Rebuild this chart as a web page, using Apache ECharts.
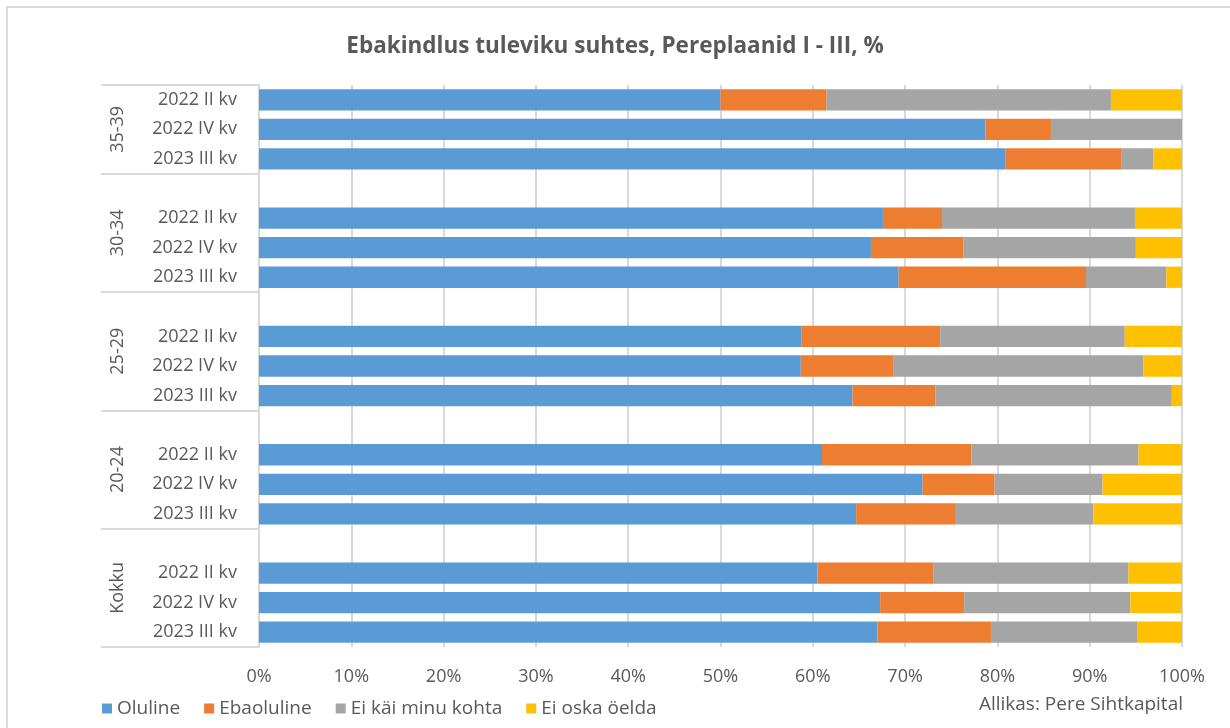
<!DOCTYPE html>
<html>
<head>
<meta charset="utf-8">
<title>Ebakindlus tuleviku suhtes</title>
<script src="https://cdn.jsdelivr.net/npm/echarts@6/dist/echarts.min.js"></script>
<style>
    html, body { margin: 0; padding: 0; background: #fff; }
    #estrutura { width: 1230px; height: 728px; }
</style>
</head>
<body>
<div id="estrutura"></div>
<script>
// categories (top to bottom)
var groups = ['35-39', '30-34', '25-29', '20-24', 'Kokku'];
var periods = ['2022 II kv', '2022 IV kv', '2023 III kv'];

// % values, same order: group by group, period by period
var oluline    = [50.0, 78.7, 80.9, 67.6, 66.3, 69.3, 58.8, 58.7, 64.3, 61.0, 71.9, 64.7, 60.5, 67.3, 67.0];
var ebaoluline = [11.5, 7.1, 12.5, 6.4, 10.0, 20.3, 15.0, 10.0, 9.0, 16.2, 7.8, 10.8, 12.6, 9.1, 12.3];
var eiKai      = [30.8, 14.2, 3.5, 20.9, 18.7, 8.7, 20.0, 27.1, 25.6, 18.1, 11.7, 14.9, 21.1, 18.0, 15.9];
var eiOska     = [7.7, 0, 3.1, 5.1, 5.0, 1.7, 6.2, 4.2, 1.1, 4.7, 8.6, 9.6, 5.8, 5.6, 4.8];

var seriesNames = ['Oluline', 'Ebaoluline', 'Ei käi minu kohta', 'Ei oska öelda'];
var colors = ['#5B9BD5', '#ED7D31', '#A5A5A5', '#FFC000'];

var fontFam = "'Open Sans', sans-serif";
var textColor = '#595959';

// build rows with an empty row in front of every group except the first
var categories = [];
var rowIndex = [];
var bounds = [0];
var mids = [];
var midName = {};
for (var g = 0; g < groups.length; g++) {
    var start = categories.length;
    if (g > 0) {
        categories.push('');
        rowIndex.push(-1);
    }
    for (var p = 0; p < periods.length; p++) {
        categories.push(periods[p]);
        rowIndex.push(g * periods.length + p);
    }
    var end = categories.length;
    bounds.push(end);
    mids.push((start + end) / 2);
    midName[(start + end) / 2] = groups[g];
}

function toRows(values) {
    return rowIndex.map(function (i) { return i < 0 ? '-' : values[i]; });
}

var allValues = [oluline, ebaoluline, eiKai, eiOska];

var chartDom = document.getElementById('estrutura');
var myChart = echarts.init(chartDom);

var series = [];
for (var s = 0; s < seriesNames.length; s++) {
    series.push({
        name: seriesNames[s],
        type: 'bar',
        stack: 'total',
        yAxisIndex: 0,
        barCategoryGap: '28%',
        itemStyle: { color: colors[s] },
        data: toRows(allValues[s])
    });
}

var option = {
    animation: false,
    backgroundColor: '#fff',
    textStyle: { fontFamily: fontFam },
    title: {
        text: 'Ebakindlus tuleviku suhtes, Pereplaanid I - III, %',
        left: 'center',
        top: 30,
        textStyle: { fontFamily: fontFam, fontSize: 22.5, fontWeight: 'bold', color: textColor }
    },
    legend: {
        left: 97,
        top: 694,
        icon: 'rect',
        itemWidth: 10,
        itemHeight: 10,
        itemGap: 24,
        textStyle: { fontFamily: fontFam, fontSize: 19, color: textColor },
        data: seriesNames
    },
    grid: {
        left: 259,
        right: 48,
        top: 85,
        bottom: 81,
        containLabel: false
    },
    xAxis: {
        type: 'value',
        min: 0,
        max: 100,
        interval: 10,
        axisLine: { show: false },
        axisTick: { show: false },
        axisLabel: {
            formatter: '{value}%',
            margin: 21,
            fontFamily: fontFam,
            fontSize: 18,
            color: textColor
        },
        splitLine: { lineStyle: { color: '#D9D9D9', width: 2 } }
    },
    yAxis: [
        {
            type: 'category',
            inverse: true,
            data: categories,
            axisLine: { show: false },
            axisTick: { show: false },
            axisLabel: {
                margin: 22,
                fontFamily: fontFam,
                fontSize: 18,
                color: textColor
            }
        },
        {
            type: 'value',
            position: 'left',
            inverse: true,
            min: 0,
            max: categories.length,
            axisLine: { show: true, lineStyle: { color: '#D9D9D9', width: 2 } },
            axisTick: {
                show: true,
                inside: false,
                length: 158,
                customValues: bounds,
                lineStyle: { color: '#D9D9D9', width: 2 }
            },
            axisLabel: {
                show: true,
                customValues: mids,
                rotate: 90,
                margin: 132,
                fontFamily: fontFam,
                fontSize: 18,
                color: textColor,
                formatter: function (v) { return midName[v] || ''; }
            },
            splitLine: { show: false }
        }
    ],
    graphic: [
        {
            type: 'rect',
            shape: { x: 7, y: 7, width: 1300, height: 800 },
            style: { fill: 'none', stroke: '#D9D9D9', lineWidth: 2 },
            silent: true
        },
        {
            type: 'text',
            right: 47,
            top: 695,
            style: {
                text: 'Allikas: Pere Sihtkapital',
                font: '19px ' + fontFam,
                fill: textColor
            }
        }
    ],
    series: series
};

option && myChart.setOption(option);
</script>
</body>
</html>
